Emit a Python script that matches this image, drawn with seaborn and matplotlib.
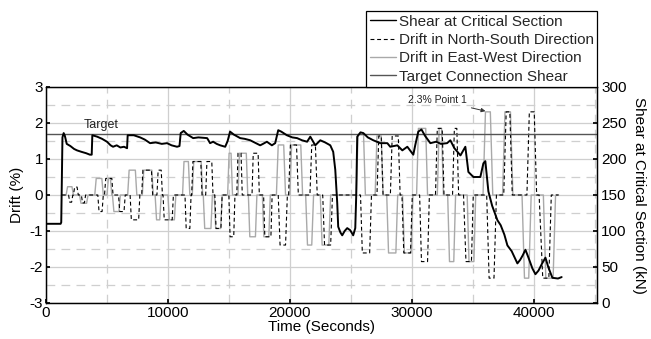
import matplotlib
matplotlib.use("Agg")
import matplotlib.pyplot as plt
import seaborn as sns
import pandas as pd
from matplotlib.lines import Line2D
from matplotlib.ticker import MultipleLocator

# ---------------- data ----------------
# Shear at critical section (kN) vs time (s)
shear_time = [0, 1200, 1250, 1350, 1450, 1550, 1700, 2000, 2300, 2540, 2900, 3300, 3600, 3750,
              3800, 4200, 4600, 5000, 5300, 5500, 5800, 6100, 6400, 6650,
              6700, 7200, 7720, 8100, 8540, 9000, 9500, 9930, 10300, 10750, 10950,
              11050, 11300, 11600, 12070, 12500, 13220, 13460, 13710, 14000, 14290, 14700,
              14900, 15100, 15400, 15930, 16300, 16750, 17100, 17570, 17800, 18120, 18530, 18800,
              19050, 19300, 19760, 20200, 20600, 21000, 21420, 21680, 22090, 22500, 22900, 23320,
              23560, 23730, 23890, 23970, 24150, 24300, 24500, 24710, 24960, 25200, 25370, 25450,
              25530, 25800, 26030, 26400, 26850, 27420, 28000, 28240, 28820, 29230, 29640, 30130,
              30300, 30540, 30800, 31100, 31530, 32000, 32400, 32900, 33170, 33500, 34000, 34400,
              34650, 35060, 35630, 35880, 36040, 36290, 36600, 37030, 37300, 37600, 37850, 38200,
              38670, 38900, 39100, 39330, 39600, 39900, 40150, 40400, 40700, 40970, 41200, 41540,
              42000, 42300]
shear_kn = [110, 110, 112, 230, 236, 232, 221, 218, 214, 212, 210, 208, 206, 206,
            233, 231, 228, 224, 219, 217, 219, 216, 217, 215,
            233, 233, 230, 227, 222, 223, 221, 222, 219, 217, 218,
            236, 239, 234, 229, 230, 229, 222, 224, 221, 219, 217,
            225, 238, 234, 229, 228, 226, 223, 219, 221, 224, 219, 222,
            240, 238, 233, 230, 229, 226, 224, 231, 219, 226, 223, 219,
            210, 185, 139, 106, 98, 94, 100, 104, 101, 94, 104, 150,
            231, 237, 236, 230, 226, 222, 222, 217, 219, 212, 217, 206,
            220, 238, 241, 232, 222, 224, 221, 222, 226, 215, 205, 217,
            182, 175, 175, 194, 197, 155, 135, 115, 108, 95, 80, 72,
            55, 60, 66, 74, 62, 48, 40, 45, 55, 63, 50, 35,
            34, 36]

# Drift in East-West direction (%)
ew_time = [1300,
           1650, 1770, 2130, 2250, 2750, 2870, 3330, 3450,
           4000, 4120, 4580, 4700, 5000, 5120, 5280, 5400, 5450, 5570, 5980, 6100,
           6700, 6820, 7330, 7450, 7900, 8020, 8680, 8800, 8950, 9070, 9330, 9450, 10000, 10120, 10530, 10650,
           11200, 11320, 11680, 11800, 12000, 12120, 12730, 12850, 12900, 13020, 13530, 13650, 13800, 13920, 14330, 14450,
           14900, 15020, 15180, 15300, 15750, 15870, 16430, 16550, 16600, 16720, 17180, 17300, 17750, 17870, 18280, 18400,
           18900, 19050, 19500, 19650, 20000, 20150, 20900, 21050, 21300, 21450, 21800, 21950, 22500, 22650, 23200, 23350,
           25450, 25600, 26050, 26200, 27000, 27150, 27500, 27650, 27950, 28100, 28700, 28850, 29250, 29400, 29950, 30100,
           30400, 30550, 31150, 31300, 32100, 32250, 32450, 32600, 32950, 33100, 33450, 33600, 34550, 34700, 35100, 35250,
           35850, 36050, 36450, 36650, 37450, 37650, 38100, 38300, 39050, 39250, 39600, 39800, 40800, 41000, 41600, 41800,
           42050]
ew_drift = [0,
            0, 0.23, 0.23, 0, 0, -0.23, -0.23, 0,
            0, 0.46, 0.46, 0, 0, 0.46, 0.46, 0, 0, -0.46, -0.46, 0,
            0, 0.69, 0.69, 0, 0, 0.69, 0.69, 0, 0, -0.69, -0.69, 0, 0, -0.69, -0.69, 0,
            0, 0.93, 0.93, 0, 0, 0.93, 0.93, 0, 0, -0.93, -0.93, 0, 0, -0.93, -0.93, 0,
            0, 1.16, 1.16, 0, 0, 1.16, 1.16, 0, 0, -1.16, -1.16, 0, 0, -1.16, -1.16, 0,
            0, 1.39, 1.39, 0, 0, 1.39, 1.39, 0, 0, -1.39, -1.39, 0, 0, -1.39, -1.39, 0,
            0, 1.68, 1.68, 0, 0, 1.64, 1.64, 0, 0, -1.61, -1.61, 0, 0, -1.61, -1.61, 0,
            0, 1.85, 1.85, 0, 0, 1.85, 1.85, 0, 0, -1.85, -1.85, 0, 0, -1.85, -1.85, 0,
            0, 2.31, 2.31, 0, 0, 2.31, 2.31, 0, 0, -2.31, -2.31, 0, 0, -2.31, -2.31, 0,
            0]

# Drift in North-South direction (%)
ns_time = [1300,
           1850, 1950, 2100, 2200, 2250, 2350, 2550, 2650, 2900, 3000, 3150, 3250,
           4250, 4350, 4600, 4700, 4800, 4900, 5400, 5500, 5950, 6050, 6400, 6500,
           6900, 7000, 7600, 7700, 7850, 7950, 8650, 8750, 9100, 9200, 9450, 9550, 9600, 9700, 10350, 10450,
           11400, 11500, 11800, 11900, 11950, 12050, 12700, 12800, 13100, 13200, 13600, 13700, 13850, 13950, 14350, 14450,
           15000, 15100, 15400, 15500, 15650, 15750, 16000, 16100, 16900, 17000, 17400, 17500, 17850, 17950, 18450, 18550,
           19050, 19200, 19650, 19800, 19900, 20050, 20550, 20700, 21650, 21800, 22100, 22250, 22700, 22850, 23350, 23500,
           25800, 25950, 26550, 26700, 27150, 27300, 27500, 27650, 28250, 28400, 28900, 29050, 29200, 29350, 29900, 30050,
           30650, 30800, 31300, 31450, 31950, 32100, 32500, 32650, 33350, 33500, 33700, 33850, 34250, 34450, 34900, 35050,
           36150, 36350, 36750, 36950, 37550, 37750, 38050, 38250, 39450, 39650, 40050, 40250, 40450, 40750, 41250, 41450,
           42050]
ns_drift = [0,
            0, -0.2, -0.2, 0, 0, 0.22, 0.22, 0, 0, -0.22, -0.22, 0,
            0, -0.46, -0.46, 0, 0, 0.46, 0.46, 0, 0, -0.46, -0.46, 0,
            0, -0.69, -0.69, 0, 0, 0.69, 0.69, 0, 0, 0.69, 0.69, 0, 0, -0.69, -0.69, 0,
            0, -0.93, -0.93, 0, 0, 0.93, 0.93, 0, 0, 0.93, 0.93, 0, 0, -0.93, -0.93, 0,
            0, -1.16, -1.16, 0, 0, 1.16, 1.16, 0, 0, 1.16, 1.16, 0, 0, -1.16, -1.16, 0,
            0, -1.39, -1.39, 0, 0, 1.39, 1.39, 0, 0, 1.39, 1.39, 0, 0, -1.39, -1.39, 0,
            0, -1.61, -1.61, 0, 0, 1.64, 1.64, 0, 0, 1.64, 1.64, 0, 0, -1.61, -1.61, 0,
            0, -1.85, -1.85, 0, 0, 1.85, 1.85, 0, 0, 1.85, 1.85, 0, 0, -1.85, -1.85, 0,
            0, -2.31, -2.31, 0, 0, 2.31, 2.31, 0, 0, 2.31, 2.31, 0, 0, -2.31, -2.31, 0,
            0]

target_shear = 235  # kN
legend_labels = ["Shear at Critical Section", "Drift in North-South Direction",
                 "Drift in East-West Direction", "Target Connection Shear"]
x_ticks = [0, 10000, 20000, 30000, 40000]
drift_ticks = [-3, -2, -1, 0, 1, 2, 3]
shear_ticks = [0, 50, 100, 150, 200, 250, 300]

# ---------------- figure ----------------
sns.set_theme(style="white")
plt.rcParams["font.family"] = ["Liberation Sans", "DejaVu Sans"]
plt.rcParams["axes.unicode_minus"] = False

fig = plt.figure(figsize=(6.51, 3.39), dpi=100)
ax = fig.add_axes([46 / 651, 36 / 339, 551 / 651, 216 / 339])
ax2 = ax.twinx()

ew_df = pd.DataFrame({"t": ew_time, "d": ew_drift})
ns_df = pd.DataFrame({"t": ns_time, "d": ns_drift})
sh_df = pd.DataFrame({"t": shear_time, "s": shear_kn})

EW_COLOR = "#a9a9a9"
NS_DASH = (0, (3.5, 2.5))
TARGET_COLOR = "#555555"

sns.lineplot(data=ew_df, x="t", y="d", ax=ax, color=EW_COLOR, lw=1.0,
             estimator=None, sort=False)
sns.lineplot(data=ns_df, x="t", y="d", ax=ax, color="black", lw=0.8,
             linestyle=NS_DASH, estimator=None, sort=False)
ax2.axhline(target_shear, color=TARGET_COLOR, lw=1.0)
sns.lineplot(data=sh_df, x="t", y="s", ax=ax2, color="black", lw=1.4,
             estimator=None, sort=False)

ax.set_xlim(0, 45200)
ax.set_ylim(-3, 3)
ax2.set_ylim(0, 300)
ax.set_xticks(x_ticks)
ax.set_yticks(drift_ticks)
ax2.set_yticks(shear_ticks)
ax.xaxis.set_minor_locator(MultipleLocator(5000))
ax.yaxis.set_minor_locator(MultipleLocator(0.5))

ax.set_axisbelow(True)
ax.grid(which="major", color="#cfcfcf", lw=0.9, ls="-")
ax.grid(which="minor", color="#cfcfcf", lw=0.9, ls=(0, (7, 5)))
ax2.grid(False)

for a in (ax, ax2):
    for sp in a.spines.values():
        sp.set_color("black")
        sp.set_linewidth(0.9)
ax.tick_params(which="major", direction="in", length=3, labelsize=11, colors="black",
               left=True, bottom=True, pad=2)
ax.tick_params(which="minor", length=0)
ax2.tick_params(direction="in", length=3, labelsize=11, colors="black", right=True, pad=3)

ax.set_xlabel("Time (Seconds)", fontsize=11, labelpad=0, color="black")
ax.set_ylabel("Drift (%)", fontsize=11, labelpad=4, color="black")
ax2.set_ylabel("Shear at Critical Section (kN)", fontsize=11, rotation=270,
               labelpad=14, color="black")

ax.text(4500, 1.95, "Target", ha="center", va="center", fontsize=9, color="#222222")
ax.annotate("2.3% Point 1", xy=(36050, 2.33), xytext=(32100, 2.64),
            ha="center", va="center", fontsize=7.5, color="#222222",
            arrowprops=dict(arrowstyle="-|>", color="#333333", lw=0.7,
                            mutation_scale=6, shrinkA=1, shrinkB=0))

handles = [Line2D([], [], color="black", lw=1.0),
           Line2D([], [], color="black", lw=0.8, ls=NS_DASH),
           Line2D([], [], color=EW_COLOR, lw=1.0),
           Line2D([], [], color=TARGET_COLOR, lw=1.0)]
leg = ax2.legend(handles, legend_labels, loc="lower right", bbox_to_anchor=(1, 1),
                 borderaxespad=0, frameon=True, fancybox=False, framealpha=1,
                 edgecolor="black", fontsize=11, handlelength=1.75, handletextpad=0.15,
                 labelspacing=0.28, borderpad=0.22)
leg.get_frame().set_linewidth(0.9)

fig.savefig("out.png", dpi=100)
